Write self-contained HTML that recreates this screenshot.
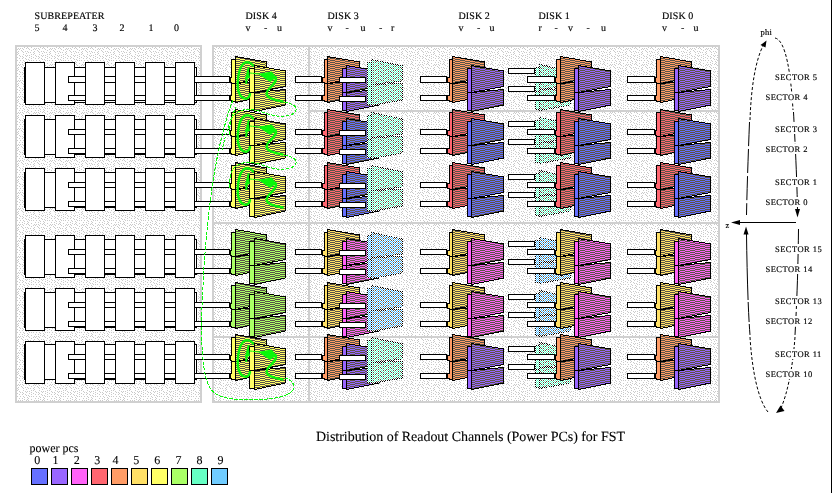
<!DOCTYPE html>
<html lang="en"><head><meta charset="utf-8"><title>Distribution of Readout Channels (Power PCs) for FST</title>
<style>
html,body{margin:0;padding:0;background:#fff;}
body{width:834px;height:494px;overflow:hidden;}
svg{display:block;}
text{font-family:"Liberation Serif","DejaVu Serif",serif;fill:#000;}
.h{font-size:10px;letter-spacing:0.1px;stroke:#000;stroke-width:0.15px;}
.s{font-size:8.5px;letter-spacing:0.45px;stroke:#000;stroke-width:0.15px;}
.c,.p{stroke:#000;stroke-width:0.1px;}
.k{stroke:#000;stroke-width:1;}
.w{fill:#fff;stroke:#000;stroke-width:1;}
.g{fill:none;stroke:#08f808;}
</style></head><body>
<svg width="834" height="494" viewBox="0 0 834 494" shape-rendering="crispEdges">
<defs>
<pattern id="bg" width="16" height="16" patternUnits="userSpaceOnUse"><rect width="16" height="16" fill="#fff"/><rect x="1" y="1" width="1" height="1" fill="#cacaca"/><rect x="1" y="4" width="1" height="1" fill="#cacaca"/><rect x="1" y="6" width="1" height="1" fill="#cacaca"/><rect x="1" y="9" width="1" height="1" fill="#cacaca"/><rect x="1" y="12" width="1" height="1" fill="#cacaca"/><rect x="2" y="0" width="1" height="1" fill="#cacaca"/><rect x="2" y="3" width="1" height="1" fill="#cacaca"/><rect x="2" y="5" width="1" height="1" fill="#cacaca"/><rect x="3" y="1" width="1" height="1" fill="#cacaca"/><rect x="3" y="7" width="1" height="1" fill="#cacaca"/><rect x="3" y="10" width="1" height="1" fill="#cacaca"/><rect x="3" y="14" width="1" height="1" fill="#cacaca"/><rect x="4" y="0" width="1" height="1" fill="#cacaca"/><rect x="4" y="8" width="1" height="1" fill="#cacaca"/><rect x="4" y="12" width="1" height="1" fill="#cacaca"/><rect x="5" y="2" width="1" height="1" fill="#cacaca"/><rect x="6" y="0" width="1" height="1" fill="#cacaca"/><rect x="6" y="3" width="1" height="1" fill="#cacaca"/><rect x="6" y="8" width="1" height="1" fill="#cacaca"/><rect x="6" y="10" width="1" height="1" fill="#cacaca"/><rect x="6" y="14" width="1" height="1" fill="#cacaca"/><rect x="7" y="1" width="1" height="1" fill="#cacaca"/><rect x="7" y="4" width="1" height="1" fill="#cacaca"/><rect x="7" y="6" width="1" height="1" fill="#cacaca"/><rect x="7" y="9" width="1" height="1" fill="#cacaca"/><rect x="7" y="12" width="1" height="1" fill="#cacaca"/><rect x="8" y="13" width="1" height="1" fill="#cacaca"/><rect x="8" y="15" width="1" height="1" fill="#cacaca"/><rect x="9" y="3" width="1" height="1" fill="#cacaca"/><rect x="9" y="7" width="1" height="1" fill="#cacaca"/><rect x="9" y="10" width="1" height="1" fill="#cacaca"/><rect x="10" y="0" width="1" height="1" fill="#cacaca"/><rect x="10" y="5" width="1" height="1" fill="#cacaca"/><rect x="10" y="8" width="1" height="1" fill="#cacaca"/><rect x="10" y="11" width="1" height="1" fill="#cacaca"/><rect x="11" y="3" width="1" height="1" fill="#cacaca"/><rect x="11" y="7" width="1" height="1" fill="#cacaca"/><rect x="11" y="13" width="1" height="1" fill="#cacaca"/><rect x="11" y="15" width="1" height="1" fill="#cacaca"/><rect x="12" y="0" width="1" height="1" fill="#cacaca"/><rect x="12" y="4" width="1" height="1" fill="#cacaca"/><rect x="12" y="11" width="1" height="1" fill="#cacaca"/><rect x="12" y="14" width="1" height="1" fill="#cacaca"/><rect x="13" y="1" width="1" height="1" fill="#cacaca"/><rect x="13" y="7" width="1" height="1" fill="#cacaca"/><rect x="13" y="9" width="1" height="1" fill="#cacaca"/><rect x="13" y="12" width="1" height="1" fill="#cacaca"/><rect x="14" y="4" width="1" height="1" fill="#cacaca"/><rect x="15" y="2" width="1" height="1" fill="#cacaca"/><rect x="15" y="6" width="1" height="1" fill="#cacaca"/><rect x="15" y="8" width="1" height="1" fill="#cacaca"/><rect x="15" y="10" width="1" height="1" fill="#cacaca"/><rect x="15" y="12" width="1" height="1" fill="#cacaca"/><rect x="15" y="15" width="1" height="1" fill="#cacaca"/></pattern>
<pattern id="h0" width="10" height="2" patternUnits="userSpaceOnUse"><rect width="10" height="2" fill="#6670ff"/><rect x="0" y="0" width="5" height="1" fill="#5a5446"/><rect x="5" y="1" width="5" height="1" fill="#5a5446"/></pattern>
<pattern id="h1" width="10" height="2" patternUnits="userSpaceOnUse"><rect width="10" height="2" fill="#9966ff"/><rect x="0" y="0" width="5" height="1" fill="#5a5446"/><rect x="5" y="1" width="5" height="1" fill="#5a5446"/></pattern>
<pattern id="h2" width="10" height="2" patternUnits="userSpaceOnUse"><rect width="10" height="2" fill="#ff62f8"/><rect x="0" y="0" width="5" height="1" fill="#5a5446"/><rect x="5" y="1" width="5" height="1" fill="#5a5446"/></pattern>
<pattern id="h3" width="10" height="2" patternUnits="userSpaceOnUse"><rect width="10" height="2" fill="#ff6670"/><rect x="0" y="0" width="5" height="1" fill="#5a5446"/><rect x="5" y="1" width="5" height="1" fill="#5a5446"/></pattern>
<pattern id="h4" width="10" height="2" patternUnits="userSpaceOnUse"><rect width="10" height="2" fill="#ff9c66"/><rect x="0" y="0" width="5" height="1" fill="#5a5446"/><rect x="5" y="1" width="5" height="1" fill="#5a5446"/></pattern>
<pattern id="h5" width="10" height="2" patternUnits="userSpaceOnUse"><rect width="10" height="2" fill="#ffe066"/><rect x="0" y="0" width="5" height="1" fill="#5a5446"/><rect x="5" y="1" width="5" height="1" fill="#5a5446"/></pattern>
<pattern id="h6" width="10" height="2" patternUnits="userSpaceOnUse"><rect width="10" height="2" fill="#ffff66"/><rect x="0" y="0" width="5" height="1" fill="#5a5446"/><rect x="5" y="1" width="5" height="1" fill="#5a5446"/></pattern>
<pattern id="h7" width="10" height="2" patternUnits="userSpaceOnUse"><rect width="10" height="2" fill="#aaff66"/><rect x="0" y="0" width="5" height="1" fill="#5a5446"/><rect x="5" y="1" width="5" height="1" fill="#5a5446"/></pattern>
<pattern id="h8" width="10" height="2" patternUnits="userSpaceOnUse"><rect width="10" height="2" fill="#66ffc4"/><rect x="0" y="0" width="5" height="1" fill="#5a5446"/><rect x="5" y="1" width="5" height="1" fill="#5a5446"/></pattern>
<pattern id="h9" width="10" height="2" patternUnits="userSpaceOnUse"><rect width="10" height="2" fill="#70ccff"/><rect x="0" y="0" width="5" height="1" fill="#5a5446"/><rect x="5" y="1" width="5" height="1" fill="#5a5446"/></pattern>
<pattern id="hr8" width="10" height="4" patternUnits="userSpaceOnUse"><rect width="10" height="4" fill="#58ffc4"/><rect x="0" y="0" width="4" height="1" fill="#5a5446"/><rect x="5" y="1" width="4" height="1" fill="#5a5446"/><rect x="3" y="2" width="4" height="1" fill="#5a5446"/><rect x="8" y="3" width="2" height="1" fill="#5a5446"/><rect x="0" y="3" width="2" height="1" fill="#5a5446"/></pattern>
<pattern id="hr9" width="10" height="4" patternUnits="userSpaceOnUse"><rect width="10" height="4" fill="#44b6ff"/><rect x="0" y="0" width="4" height="1" fill="#5a5446"/><rect x="5" y="1" width="4" height="1" fill="#5a5446"/><rect x="3" y="2" width="4" height="1" fill="#5a5446"/><rect x="8" y="3" width="2" height="1" fill="#5a5446"/><rect x="0" y="3" width="2" height="1" fill="#5a5446"/></pattern>
<pattern id="rs8" width="2" height="2" patternUnits="userSpaceOnUse"><rect width="2" height="2" fill="#fff"/><rect x="0" y="0" width="1" height="1" fill="#66ffc4"/><rect x="1" y="1" width="1" height="1" fill="#66ffc4"/></pattern>
<pattern id="rh8" width="2" height="2" patternUnits="userSpaceOnUse"><rect width="2" height="2" fill="#fff"/><rect x="0" y="0" width="1" height="1" fill="#66ffc4"/><rect x="1" y="1" width="1" height="1" fill="#505048"/></pattern>
<pattern id="rs9" width="2" height="2" patternUnits="userSpaceOnUse"><rect width="2" height="2" fill="#fff"/><rect x="0" y="0" width="1" height="1" fill="#70ccff"/><rect x="1" y="1" width="1" height="1" fill="#70ccff"/></pattern>
<pattern id="rh9" width="2" height="2" patternUnits="userSpaceOnUse"><rect width="2" height="2" fill="#fff"/><rect x="0" y="0" width="1" height="1" fill="#70ccff"/><rect x="1" y="1" width="1" height="1" fill="#505048"/></pattern>
<pattern id="kd" width="2" height="2" patternUnits="userSpaceOnUse"><rect x="0" y="0" width="1" height="1" fill="#000"/><rect x="1" y="1" width="1" height="1" fill="#000"/></pattern>
<pattern id="ckp" width="2" height="2" patternUnits="userSpaceOnUse"><rect width="2" height="2" fill="#000"/><rect x="1" y="0" width="1" height="1" fill="#fff"/><rect x="0" y="1" width="1" height="1" fill="#fff"/></pattern>
<mask id="ck" maskUnits="userSpaceOnUse" x="0" y="0" width="834" height="494"><rect width="834" height="494" fill="url(#ckp)"/></mask>
</defs>
<rect width="834" height="494" fill="#fff"/>
<rect x="16" y="46" width="185" height="356" fill="url(#bg)" stroke="#d0d0d0" stroke-width="2"/>
<rect x="213" y="46" width="506" height="356" fill="url(#bg)" stroke="#d0d0d0" stroke-width="2"/>
<rect x="308" y="47" width="2" height="354" fill="#d0d0d0"/>
<rect x="214" y="222" width="504" height="2" fill="#d0d0d0"/>
<rect x="214" y="336" width="504" height="2" fill="#d0d0d0"/>
<rect x="310" y="110" width="408" height="2" fill="#d0d0d0"/>
<rect class="w" x="24.5" y="67.5" width="172.0" height="35.0"/>
<rect x="24" y="67" width="2" height="36" fill="#000"/>
<rect class="w" x="25.5" y="62.5" width="19.0" height="42.0"/>
<rect class="w" x="55.5" y="62.5" width="19.0" height="42.0"/>
<rect class="w" x="68.5" y="76.5" width="161.0" height="6.0"/>
<rect class="w" x="68.5" y="95.5" width="161.0" height="5.0"/>
<rect class="w" x="85.5" y="62.5" width="19.0" height="42.0"/>
<rect class="w" x="115.5" y="62.5" width="19.0" height="42.0"/>
<rect class="w" x="145.5" y="62.5" width="19.0" height="42.0"/>
<rect class="w" x="175.5" y="62.5" width="19.0" height="42.0"/>
<rect class="w" x="24.5" y="119.5" width="172.0" height="35.0"/>
<rect x="24" y="119" width="2" height="36" fill="#000"/>
<rect class="w" x="25.5" y="115.5" width="19.0" height="42.0"/>
<rect class="w" x="55.5" y="115.5" width="19.0" height="42.0"/>
<rect class="w" x="68.5" y="129.5" width="161.0" height="5.0"/>
<rect class="w" x="68.5" y="148.5" width="161.0" height="5.0"/>
<rect class="w" x="85.5" y="115.5" width="19.0" height="42.0"/>
<rect class="w" x="115.5" y="115.5" width="19.0" height="42.0"/>
<rect class="w" x="145.5" y="115.5" width="19.0" height="42.0"/>
<rect class="w" x="175.5" y="115.5" width="19.0" height="42.0"/>
<rect class="w" x="24.5" y="172.5" width="172.0" height="35.0"/>
<rect x="24" y="172" width="2" height="36" fill="#000"/>
<rect class="w" x="25.5" y="168.5" width="19.0" height="42.0"/>
<rect class="w" x="55.5" y="168.5" width="19.0" height="42.0"/>
<rect class="w" x="68.5" y="182.5" width="161.0" height="5.0"/>
<rect class="w" x="68.5" y="201.5" width="161.0" height="5.0"/>
<rect class="w" x="85.5" y="168.5" width="19.0" height="42.0"/>
<rect class="w" x="115.5" y="168.5" width="19.0" height="42.0"/>
<rect class="w" x="145.5" y="168.5" width="19.0" height="42.0"/>
<rect class="w" x="175.5" y="168.5" width="19.0" height="42.0"/>
<rect class="w" x="24.5" y="239.5" width="172.0" height="35.0"/>
<rect x="24" y="239" width="2" height="36" fill="#000"/>
<rect class="w" x="25.5" y="235.5" width="19.0" height="42.0"/>
<rect class="w" x="55.5" y="235.5" width="19.0" height="42.0"/>
<rect class="w" x="68.5" y="249.5" width="161.0" height="5.0"/>
<rect class="w" x="68.5" y="268.5" width="161.0" height="5.0"/>
<rect class="w" x="85.5" y="235.5" width="19.0" height="42.0"/>
<rect class="w" x="115.5" y="235.5" width="19.0" height="42.0"/>
<rect class="w" x="145.5" y="235.5" width="19.0" height="42.0"/>
<rect class="w" x="175.5" y="235.5" width="19.0" height="42.0"/>
<rect class="w" x="24.5" y="292.5" width="172.0" height="35.0"/>
<rect x="24" y="292" width="2" height="36" fill="#000"/>
<rect class="w" x="25.5" y="288.5" width="19.0" height="42.0"/>
<rect class="w" x="55.5" y="288.5" width="19.0" height="42.0"/>
<rect class="w" x="68.5" y="302.5" width="161.0" height="5.0"/>
<rect class="w" x="68.5" y="321.5" width="161.0" height="5.0"/>
<rect class="w" x="85.5" y="288.5" width="19.0" height="42.0"/>
<rect class="w" x="115.5" y="288.5" width="19.0" height="42.0"/>
<rect class="w" x="145.5" y="288.5" width="19.0" height="42.0"/>
<rect class="w" x="175.5" y="288.5" width="19.0" height="42.0"/>
<rect class="w" x="24.5" y="344.5" width="172.0" height="35.0"/>
<rect x="24" y="344" width="2" height="36" fill="#000"/>
<rect class="w" x="25.5" y="341.5" width="19.0" height="42.0"/>
<rect class="w" x="55.5" y="341.5" width="19.0" height="42.0"/>
<rect class="w" x="68.5" y="354.5" width="161.0" height="5.0"/>
<rect class="w" x="68.5" y="373.5" width="161.0" height="5.0"/>
<rect class="w" x="85.5" y="341.5" width="19.0" height="42.0"/>
<rect class="w" x="115.5" y="341.5" width="19.0" height="42.0"/>
<rect class="w" x="145.5" y="341.5" width="19.0" height="42.0"/>
<rect class="w" x="175.5" y="341.5" width="19.0" height="42.0"/>
<rect class="k" x="230.5" y="77.5" width="2.0" height="5.0" fill="#ffff66"/>
<rect class="k" x="230.5" y="95.5" width="2.0" height="5.0" fill="#ffff66"/>
<rect class="k" x="231.5" y="59.5" width="4.0" height="24.0" fill="#ffff66"/>
<rect class="k" x="231.5" y="83.5" width="4.0" height="18.0" fill="#ffff66"/>
<rect x="231" y="78" width="1" height="4" fill="#ffff66"/>
<rect x="231" y="96" width="1" height="4" fill="#ffff66"/>
<polygon points="235.5,56.5 266.5,62.0 266.5,77.5 235.5,83.5" fill="url(#h6)" stroke="#000" stroke-width="1"/>
<polygon points="235.5,83.5 266.5,80.5 266.5,96.0 235.5,102.5" fill="url(#h6)" stroke="#000" stroke-width="1"/>
<rect class="k" x="249.5" y="68.5" width="5.0" height="24.0" fill="#ffff66"/>
<rect class="k" x="249.5" y="92.5" width="5.0" height="18.0" fill="#ffff66"/>
<polygon points="254.5,65.5 285.5,71.0 285.5,86.5 254.5,92.5" fill="url(#h6)" stroke="#000" stroke-width="1"/>
<polygon points="254.5,92.5 285.5,89.5 285.5,105.0 254.5,111.5" fill="url(#h6)" stroke="#000" stroke-width="1"/>
<rect class="w" x="295.5" y="76.5" width="26.0" height="6.0"/>
<rect class="w" x="295.5" y="95.5" width="26.0" height="5.0"/>
<rect class="k" x="322.5" y="77.5" width="3.0" height="5.0" fill="#ff9c66"/>
<rect class="k" x="322.5" y="95.5" width="3.0" height="5.0" fill="#ff9c66"/>
<rect class="k" x="324.5" y="59.5" width="3.0" height="24.0" fill="#ff9c66"/>
<rect class="k" x="324.5" y="83.5" width="3.0" height="18.0" fill="#ff9c66"/>
<rect x="324" y="78" width="1" height="4" fill="#ff9c66"/>
<rect x="324" y="96" width="1" height="4" fill="#ff9c66"/>
<polygon points="327.5,56.5 359.5,62.0 359.5,77.5 327.5,83.5" fill="url(#h4)" stroke="#000" stroke-width="1"/>
<polygon points="327.5,83.5 359.5,80.5 359.5,96.0 327.5,102.5" fill="url(#h4)" stroke="#000" stroke-width="1"/>
<rect class="k" x="342.5" y="68.5" width="4.0" height="24.0" fill="#9966ff"/>
<rect class="k" x="342.5" y="92.5" width="4.0" height="18.0" fill="#9966ff"/>
<polygon points="346.5,65.5 378.5,71.0 378.5,86.5 346.5,92.5" fill="url(#h1)" stroke="#000" stroke-width="1"/>
<polygon points="346.5,92.5 378.5,89.5 378.5,105.0 346.5,111.5" fill="url(#h1)" stroke="#000" stroke-width="1"/>
<rect class="w" x="339.5" y="77.5" width="26.0" height="5.0"/>
<rect class="w" x="339.5" y="96.5" width="26.0" height="5.0"/>
<polygon points="367.0,62.0 371.0,62.0 371.0,59.0 403.0,65.5 403.0,100.5 371.0,106.0 371.0,105.0 367.0,105.0" fill="#fff"/>
<g mask="url(#ck)">
<rect class="k" x="367.5" y="62.5" width="4.0" height="24.0" fill="#58ffc4"/>
<rect class="k" x="367.5" y="86.5" width="4.0" height="18.0" fill="#58ffc4"/>
<polygon points="371.5,59.5 402.5,66.0 402.5,81.0 371.5,84.5" fill="url(#hr8)" stroke="#000" stroke-width="1"/>
<polygon points="371.5,84.5 402.5,83.5 402.5,100.0 371.5,105.5" fill="url(#hr8)" stroke="#000" stroke-width="1"/>
</g>
<rect class="w" x="420.5" y="76.5" width="26.0" height="6.0"/>
<rect class="w" x="420.5" y="95.5" width="26.0" height="5.0"/>
<rect class="k" x="447.5" y="77.5" width="3.0" height="5.0" fill="#ff9c66"/>
<rect class="k" x="447.5" y="95.5" width="3.0" height="5.0" fill="#ff9c66"/>
<rect class="k" x="449.5" y="59.5" width="3.0" height="24.0" fill="#ff9c66"/>
<rect class="k" x="449.5" y="83.5" width="3.0" height="18.0" fill="#ff9c66"/>
<rect x="449" y="78" width="1" height="4" fill="#ff9c66"/>
<rect x="449" y="96" width="1" height="4" fill="#ff9c66"/>
<polygon points="452.5,56.5 484.5,62.0 484.5,77.5 452.5,83.5" fill="url(#h4)" stroke="#000" stroke-width="1"/>
<polygon points="452.5,83.5 484.5,80.5 484.5,96.0 452.5,102.5" fill="url(#h4)" stroke="#000" stroke-width="1"/>
<rect class="k" x="467.5" y="68.5" width="4.0" height="24.0" fill="#9966ff"/>
<rect class="k" x="467.5" y="92.5" width="4.0" height="18.0" fill="#9966ff"/>
<polygon points="471.5,65.5 503.5,71.0 503.5,86.5 471.5,92.5" fill="url(#h1)" stroke="#000" stroke-width="1"/>
<polygon points="471.5,92.5 503.5,89.5 503.5,105.0 471.5,111.5" fill="url(#h1)" stroke="#000" stroke-width="1"/>
<rect class="w" x="508.5" y="68.5" width="26.0" height="5.0"/>
<rect class="w" x="508.5" y="86.5" width="26.0" height="5.0"/>
<polygon points="535.0,67.0 539.0,67.0 539.0,64.0 571.0,70.5 571.0,105.5 539.0,111.0 539.0,110.0 535.0,110.0" fill="#fff"/>
<g mask="url(#ck)">
<rect class="k" x="535.5" y="67.5" width="4.0" height="24.0" fill="#58ffc4"/>
<rect class="k" x="535.5" y="91.5" width="4.0" height="18.0" fill="#58ffc4"/>
<polygon points="539.5,64.5 570.5,71.0 570.5,86.0 539.5,89.5" fill="url(#hr8)" stroke="#000" stroke-width="1"/>
<polygon points="539.5,89.5 570.5,88.5 570.5,105.0 539.5,110.5" fill="url(#hr8)" stroke="#000" stroke-width="1"/>
</g>
<rect class="w" x="527.5" y="76.5" width="27.0" height="6.0"/>
<rect class="w" x="527.5" y="95.5" width="27.0" height="5.0"/>
<rect class="k" x="555.5" y="77.5" width="2.0" height="5.0" fill="#ff9c66"/>
<rect class="k" x="555.5" y="95.5" width="2.0" height="5.0" fill="#ff9c66"/>
<rect class="k" x="556.5" y="59.5" width="4.0" height="24.0" fill="#ff9c66"/>
<rect class="k" x="556.5" y="83.5" width="4.0" height="18.0" fill="#ff9c66"/>
<rect x="556" y="78" width="1" height="4" fill="#ff9c66"/>
<rect x="556" y="96" width="1" height="4" fill="#ff9c66"/>
<polygon points="560.5,56.5 591.5,62.0 591.5,77.5 560.5,83.5" fill="url(#h4)" stroke="#000" stroke-width="1"/>
<polygon points="560.5,83.5 591.5,80.5 591.5,96.0 560.5,102.5" fill="url(#h4)" stroke="#000" stroke-width="1"/>
<rect class="k" x="574.5" y="68.5" width="4.0" height="24.0" fill="#9966ff"/>
<rect class="k" x="574.5" y="92.5" width="4.0" height="18.0" fill="#9966ff"/>
<polygon points="578.5,65.5 610.5,71.0 610.5,86.5 578.5,92.5" fill="url(#h1)" stroke="#000" stroke-width="1"/>
<polygon points="578.5,92.5 610.5,89.5 610.5,105.0 578.5,111.5" fill="url(#h1)" stroke="#000" stroke-width="1"/>
<rect class="w" x="627.5" y="76.5" width="27.0" height="6.0"/>
<rect class="w" x="627.5" y="95.5" width="27.0" height="5.0"/>
<rect class="k" x="655.5" y="77.5" width="2.0" height="5.0" fill="#ff9c66"/>
<rect class="k" x="655.5" y="95.5" width="2.0" height="5.0" fill="#ff9c66"/>
<rect class="k" x="656.5" y="59.5" width="4.0" height="24.0" fill="#ff9c66"/>
<rect class="k" x="656.5" y="83.5" width="4.0" height="18.0" fill="#ff9c66"/>
<rect x="656" y="78" width="1" height="4" fill="#ff9c66"/>
<rect x="656" y="96" width="1" height="4" fill="#ff9c66"/>
<polygon points="660.5,56.5 691.5,62.0 691.5,77.5 660.5,83.5" fill="url(#h4)" stroke="#000" stroke-width="1"/>
<polygon points="660.5,83.5 691.5,80.5 691.5,96.0 660.5,102.5" fill="url(#h4)" stroke="#000" stroke-width="1"/>
<rect class="k" x="674.5" y="68.5" width="4.0" height="24.0" fill="#9966ff"/>
<rect class="k" x="674.5" y="92.5" width="4.0" height="18.0" fill="#9966ff"/>
<polygon points="678.5,65.5 710.5,71.0 710.5,86.5 678.5,92.5" fill="url(#h1)" stroke="#000" stroke-width="1"/>
<polygon points="678.5,92.5 710.5,89.5 710.5,105.0 678.5,111.5" fill="url(#h1)" stroke="#000" stroke-width="1"/>
<rect class="k" x="230.5" y="130.5" width="2.0" height="5.0" fill="#ffff66"/>
<rect class="k" x="230.5" y="148.5" width="2.0" height="5.0" fill="#ffff66"/>
<rect class="k" x="231.5" y="112.5" width="4.0" height="24.0" fill="#ffff66"/>
<rect class="k" x="231.5" y="136.5" width="4.0" height="18.0" fill="#ffff66"/>
<rect x="231" y="131" width="1" height="4" fill="#ffff66"/>
<rect x="231" y="149" width="1" height="4" fill="#ffff66"/>
<polygon points="235.5,109.5 266.5,115.0 266.5,130.5 235.5,136.5" fill="url(#h6)" stroke="#000" stroke-width="1"/>
<polygon points="235.5,136.5 266.5,133.5 266.5,149.0 235.5,155.5" fill="url(#h6)" stroke="#000" stroke-width="1"/>
<rect class="k" x="249.5" y="121.5" width="5.0" height="24.0" fill="#ffff66"/>
<rect class="k" x="249.5" y="145.5" width="5.0" height="18.0" fill="#ffff66"/>
<polygon points="254.5,118.5 285.5,124.0 285.5,139.5 254.5,145.5" fill="url(#h6)" stroke="#000" stroke-width="1"/>
<polygon points="254.5,145.5 285.5,142.5 285.5,158.0 254.5,164.5" fill="url(#h6)" stroke="#000" stroke-width="1"/>
<rect class="w" x="295.5" y="129.5" width="26.0" height="5.0"/>
<rect class="w" x="295.5" y="148.5" width="26.0" height="5.0"/>
<rect class="k" x="322.5" y="130.5" width="3.0" height="5.0" fill="#ff6670"/>
<rect class="k" x="322.5" y="148.5" width="3.0" height="5.0" fill="#ff6670"/>
<rect class="k" x="324.5" y="112.5" width="3.0" height="24.0" fill="#ff6670"/>
<rect class="k" x="324.5" y="136.5" width="3.0" height="18.0" fill="#ff6670"/>
<rect x="324" y="131" width="1" height="4" fill="#ff6670"/>
<rect x="324" y="149" width="1" height="4" fill="#ff6670"/>
<polygon points="327.5,109.5 359.5,115.0 359.5,130.5 327.5,136.5" fill="url(#h3)" stroke="#000" stroke-width="1"/>
<polygon points="327.5,136.5 359.5,133.5 359.5,149.0 327.5,155.5" fill="url(#h3)" stroke="#000" stroke-width="1"/>
<rect class="k" x="342.5" y="121.5" width="4.0" height="24.0" fill="#6670ff"/>
<rect class="k" x="342.5" y="145.5" width="4.0" height="18.0" fill="#6670ff"/>
<polygon points="346.5,118.5 378.5,124.0 378.5,139.5 346.5,145.5" fill="url(#h0)" stroke="#000" stroke-width="1"/>
<polygon points="346.5,145.5 378.5,142.5 378.5,158.0 346.5,164.5" fill="url(#h0)" stroke="#000" stroke-width="1"/>
<rect class="w" x="339.5" y="130.5" width="26.0" height="5.0"/>
<rect class="w" x="339.5" y="149.5" width="26.0" height="5.0"/>
<polygon points="367.0,115.0 371.0,115.0 371.0,112.0 403.0,118.5 403.0,153.5 371.0,159.0 371.0,158.0 367.0,158.0" fill="#fff"/>
<g mask="url(#ck)">
<rect class="k" x="367.5" y="115.5" width="4.0" height="24.0" fill="#58ffc4"/>
<rect class="k" x="367.5" y="139.5" width="4.0" height="18.0" fill="#58ffc4"/>
<polygon points="371.5,112.5 402.5,119.0 402.5,134.0 371.5,137.5" fill="url(#hr8)" stroke="#000" stroke-width="1"/>
<polygon points="371.5,137.5 402.5,136.5 402.5,153.0 371.5,158.5" fill="url(#hr8)" stroke="#000" stroke-width="1"/>
</g>
<rect class="w" x="420.5" y="129.5" width="26.0" height="5.0"/>
<rect class="w" x="420.5" y="148.5" width="26.0" height="5.0"/>
<rect class="k" x="447.5" y="130.5" width="3.0" height="5.0" fill="#ff6670"/>
<rect class="k" x="447.5" y="148.5" width="3.0" height="5.0" fill="#ff6670"/>
<rect class="k" x="449.5" y="112.5" width="3.0" height="24.0" fill="#ff6670"/>
<rect class="k" x="449.5" y="136.5" width="3.0" height="18.0" fill="#ff6670"/>
<rect x="449" y="131" width="1" height="4" fill="#ff6670"/>
<rect x="449" y="149" width="1" height="4" fill="#ff6670"/>
<polygon points="452.5,109.5 484.5,115.0 484.5,130.5 452.5,136.5" fill="url(#h3)" stroke="#000" stroke-width="1"/>
<polygon points="452.5,136.5 484.5,133.5 484.5,149.0 452.5,155.5" fill="url(#h3)" stroke="#000" stroke-width="1"/>
<rect class="k" x="467.5" y="121.5" width="4.0" height="24.0" fill="#6670ff"/>
<rect class="k" x="467.5" y="145.5" width="4.0" height="18.0" fill="#6670ff"/>
<polygon points="471.5,118.5 503.5,124.0 503.5,139.5 471.5,145.5" fill="url(#h0)" stroke="#000" stroke-width="1"/>
<polygon points="471.5,145.5 503.5,142.5 503.5,158.0 471.5,164.5" fill="url(#h0)" stroke="#000" stroke-width="1"/>
<rect class="w" x="508.5" y="121.5" width="26.0" height="5.0"/>
<rect class="w" x="508.5" y="139.5" width="26.0" height="5.0"/>
<polygon points="535.0,120.0 539.0,120.0 539.0,117.0 571.0,123.5 571.0,158.5 539.0,164.0 539.0,163.0 535.0,163.0" fill="#fff"/>
<g mask="url(#ck)">
<rect class="k" x="535.5" y="120.5" width="4.0" height="24.0" fill="#58ffc4"/>
<rect class="k" x="535.5" y="144.5" width="4.0" height="18.0" fill="#58ffc4"/>
<polygon points="539.5,117.5 570.5,124.0 570.5,139.0 539.5,142.5" fill="url(#hr8)" stroke="#000" stroke-width="1"/>
<polygon points="539.5,142.5 570.5,141.5 570.5,158.0 539.5,163.5" fill="url(#hr8)" stroke="#000" stroke-width="1"/>
</g>
<rect class="w" x="527.5" y="129.5" width="27.0" height="5.0"/>
<rect class="w" x="527.5" y="148.5" width="27.0" height="5.0"/>
<rect class="k" x="555.5" y="130.5" width="2.0" height="5.0" fill="#ff6670"/>
<rect class="k" x="555.5" y="148.5" width="2.0" height="5.0" fill="#ff6670"/>
<rect class="k" x="556.5" y="112.5" width="4.0" height="24.0" fill="#ff6670"/>
<rect class="k" x="556.5" y="136.5" width="4.0" height="18.0" fill="#ff6670"/>
<rect x="556" y="131" width="1" height="4" fill="#ff6670"/>
<rect x="556" y="149" width="1" height="4" fill="#ff6670"/>
<polygon points="560.5,109.5 591.5,115.0 591.5,130.5 560.5,136.5" fill="url(#h3)" stroke="#000" stroke-width="1"/>
<polygon points="560.5,136.5 591.5,133.5 591.5,149.0 560.5,155.5" fill="url(#h3)" stroke="#000" stroke-width="1"/>
<rect class="k" x="574.5" y="121.5" width="4.0" height="24.0" fill="#6670ff"/>
<rect class="k" x="574.5" y="145.5" width="4.0" height="18.0" fill="#6670ff"/>
<polygon points="578.5,118.5 610.5,124.0 610.5,139.5 578.5,145.5" fill="url(#h0)" stroke="#000" stroke-width="1"/>
<polygon points="578.5,145.5 610.5,142.5 610.5,158.0 578.5,164.5" fill="url(#h0)" stroke="#000" stroke-width="1"/>
<rect class="w" x="627.5" y="129.5" width="27.0" height="5.0"/>
<rect class="w" x="627.5" y="148.5" width="27.0" height="5.0"/>
<rect class="k" x="655.5" y="130.5" width="2.0" height="5.0" fill="#ff6670"/>
<rect class="k" x="655.5" y="148.5" width="2.0" height="5.0" fill="#ff6670"/>
<rect class="k" x="656.5" y="112.5" width="4.0" height="24.0" fill="#ff6670"/>
<rect class="k" x="656.5" y="136.5" width="4.0" height="18.0" fill="#ff6670"/>
<rect x="656" y="131" width="1" height="4" fill="#ff6670"/>
<rect x="656" y="149" width="1" height="4" fill="#ff6670"/>
<polygon points="660.5,109.5 691.5,115.0 691.5,130.5 660.5,136.5" fill="url(#h3)" stroke="#000" stroke-width="1"/>
<polygon points="660.5,136.5 691.5,133.5 691.5,149.0 660.5,155.5" fill="url(#h3)" stroke="#000" stroke-width="1"/>
<rect class="k" x="674.5" y="121.5" width="4.0" height="24.0" fill="#6670ff"/>
<rect class="k" x="674.5" y="145.5" width="4.0" height="18.0" fill="#6670ff"/>
<polygon points="678.5,118.5 710.5,124.0 710.5,139.5 678.5,145.5" fill="url(#h0)" stroke="#000" stroke-width="1"/>
<polygon points="678.5,145.5 710.5,142.5 710.5,158.0 678.5,164.5" fill="url(#h0)" stroke="#000" stroke-width="1"/>
<rect class="k" x="230.5" y="183.5" width="2.0" height="5.0" fill="#ffff66"/>
<rect class="k" x="230.5" y="201.5" width="2.0" height="5.0" fill="#ffff66"/>
<rect class="k" x="231.5" y="165.5" width="4.0" height="24.0" fill="#ffff66"/>
<rect class="k" x="231.5" y="189.5" width="4.0" height="18.0" fill="#ffff66"/>
<rect x="231" y="184" width="1" height="4" fill="#ffff66"/>
<rect x="231" y="202" width="1" height="4" fill="#ffff66"/>
<polygon points="235.5,162.5 266.5,168.0 266.5,183.5 235.5,189.5" fill="url(#h6)" stroke="#000" stroke-width="1"/>
<polygon points="235.5,189.5 266.5,186.5 266.5,202.0 235.5,208.5" fill="url(#h6)" stroke="#000" stroke-width="1"/>
<rect class="k" x="249.5" y="174.5" width="5.0" height="24.0" fill="#ffff66"/>
<rect class="k" x="249.5" y="198.5" width="5.0" height="18.0" fill="#ffff66"/>
<polygon points="254.5,171.5 285.5,177.0 285.5,192.5 254.5,198.5" fill="url(#h6)" stroke="#000" stroke-width="1"/>
<polygon points="254.5,198.5 285.5,195.5 285.5,211.0 254.5,217.5" fill="url(#h6)" stroke="#000" stroke-width="1"/>
<rect class="w" x="295.5" y="182.5" width="26.0" height="5.0"/>
<rect class="w" x="295.5" y="201.5" width="26.0" height="5.0"/>
<rect class="k" x="322.5" y="183.5" width="3.0" height="5.0" fill="#ff6670"/>
<rect class="k" x="322.5" y="201.5" width="3.0" height="5.0" fill="#ff6670"/>
<rect class="k" x="324.5" y="165.5" width="3.0" height="24.0" fill="#ff6670"/>
<rect class="k" x="324.5" y="189.5" width="3.0" height="18.0" fill="#ff6670"/>
<rect x="324" y="184" width="1" height="4" fill="#ff6670"/>
<rect x="324" y="202" width="1" height="4" fill="#ff6670"/>
<polygon points="327.5,162.5 359.5,168.0 359.5,183.5 327.5,189.5" fill="url(#h3)" stroke="#000" stroke-width="1"/>
<polygon points="327.5,189.5 359.5,186.5 359.5,202.0 327.5,208.5" fill="url(#h3)" stroke="#000" stroke-width="1"/>
<rect class="k" x="342.5" y="174.5" width="4.0" height="24.0" fill="#6670ff"/>
<rect class="k" x="342.5" y="198.5" width="4.0" height="18.0" fill="#6670ff"/>
<polygon points="346.5,171.5 378.5,177.0 378.5,192.5 346.5,198.5" fill="url(#h0)" stroke="#000" stroke-width="1"/>
<polygon points="346.5,198.5 378.5,195.5 378.5,211.0 346.5,217.5" fill="url(#h0)" stroke="#000" stroke-width="1"/>
<rect class="w" x="339.5" y="183.5" width="26.0" height="5.0"/>
<rect class="w" x="339.5" y="202.5" width="26.0" height="5.0"/>
<polygon points="367.0,168.0 371.0,168.0 371.0,165.0 403.0,171.5 403.0,206.5 371.0,212.0 371.0,211.0 367.0,211.0" fill="#fff"/>
<g mask="url(#ck)">
<rect class="k" x="367.5" y="168.5" width="4.0" height="24.0" fill="#58ffc4"/>
<rect class="k" x="367.5" y="192.5" width="4.0" height="18.0" fill="#58ffc4"/>
<polygon points="371.5,165.5 402.5,172.0 402.5,187.0 371.5,190.5" fill="url(#hr8)" stroke="#000" stroke-width="1"/>
<polygon points="371.5,190.5 402.5,189.5 402.5,206.0 371.5,211.5" fill="url(#hr8)" stroke="#000" stroke-width="1"/>
</g>
<rect class="w" x="420.5" y="182.5" width="26.0" height="5.0"/>
<rect class="w" x="420.5" y="201.5" width="26.0" height="5.0"/>
<rect class="k" x="447.5" y="183.5" width="3.0" height="5.0" fill="#ff6670"/>
<rect class="k" x="447.5" y="201.5" width="3.0" height="5.0" fill="#ff6670"/>
<rect class="k" x="449.5" y="165.5" width="3.0" height="24.0" fill="#ff6670"/>
<rect class="k" x="449.5" y="189.5" width="3.0" height="18.0" fill="#ff6670"/>
<rect x="449" y="184" width="1" height="4" fill="#ff6670"/>
<rect x="449" y="202" width="1" height="4" fill="#ff6670"/>
<polygon points="452.5,162.5 484.5,168.0 484.5,183.5 452.5,189.5" fill="url(#h3)" stroke="#000" stroke-width="1"/>
<polygon points="452.5,189.5 484.5,186.5 484.5,202.0 452.5,208.5" fill="url(#h3)" stroke="#000" stroke-width="1"/>
<rect class="k" x="467.5" y="174.5" width="4.0" height="24.0" fill="#6670ff"/>
<rect class="k" x="467.5" y="198.5" width="4.0" height="18.0" fill="#6670ff"/>
<polygon points="471.5,171.5 503.5,177.0 503.5,192.5 471.5,198.5" fill="url(#h0)" stroke="#000" stroke-width="1"/>
<polygon points="471.5,198.5 503.5,195.5 503.5,211.0 471.5,217.5" fill="url(#h0)" stroke="#000" stroke-width="1"/>
<rect class="w" x="508.5" y="174.5" width="26.0" height="5.0"/>
<rect class="w" x="508.5" y="192.5" width="26.0" height="5.0"/>
<polygon points="535.0,173.0 539.0,173.0 539.0,170.0 571.0,176.5 571.0,211.5 539.0,217.0 539.0,216.0 535.0,216.0" fill="#fff"/>
<g mask="url(#ck)">
<rect class="k" x="535.5" y="173.5" width="4.0" height="24.0" fill="#58ffc4"/>
<rect class="k" x="535.5" y="197.5" width="4.0" height="18.0" fill="#58ffc4"/>
<polygon points="539.5,170.5 570.5,177.0 570.5,192.0 539.5,195.5" fill="url(#hr8)" stroke="#000" stroke-width="1"/>
<polygon points="539.5,195.5 570.5,194.5 570.5,211.0 539.5,216.5" fill="url(#hr8)" stroke="#000" stroke-width="1"/>
</g>
<rect class="w" x="527.5" y="182.5" width="27.0" height="5.0"/>
<rect class="w" x="527.5" y="201.5" width="27.0" height="5.0"/>
<rect class="k" x="555.5" y="183.5" width="2.0" height="5.0" fill="#ff6670"/>
<rect class="k" x="555.5" y="201.5" width="2.0" height="5.0" fill="#ff6670"/>
<rect class="k" x="556.5" y="165.5" width="4.0" height="24.0" fill="#ff6670"/>
<rect class="k" x="556.5" y="189.5" width="4.0" height="18.0" fill="#ff6670"/>
<rect x="556" y="184" width="1" height="4" fill="#ff6670"/>
<rect x="556" y="202" width="1" height="4" fill="#ff6670"/>
<polygon points="560.5,162.5 591.5,168.0 591.5,183.5 560.5,189.5" fill="url(#h3)" stroke="#000" stroke-width="1"/>
<polygon points="560.5,189.5 591.5,186.5 591.5,202.0 560.5,208.5" fill="url(#h3)" stroke="#000" stroke-width="1"/>
<rect class="k" x="574.5" y="174.5" width="4.0" height="24.0" fill="#6670ff"/>
<rect class="k" x="574.5" y="198.5" width="4.0" height="18.0" fill="#6670ff"/>
<polygon points="578.5,171.5 610.5,177.0 610.5,192.5 578.5,198.5" fill="url(#h0)" stroke="#000" stroke-width="1"/>
<polygon points="578.5,198.5 610.5,195.5 610.5,211.0 578.5,217.5" fill="url(#h0)" stroke="#000" stroke-width="1"/>
<rect class="w" x="627.5" y="182.5" width="27.0" height="5.0"/>
<rect class="w" x="627.5" y="201.5" width="27.0" height="5.0"/>
<rect class="k" x="655.5" y="183.5" width="2.0" height="5.0" fill="#ff6670"/>
<rect class="k" x="655.5" y="201.5" width="2.0" height="5.0" fill="#ff6670"/>
<rect class="k" x="656.5" y="165.5" width="4.0" height="24.0" fill="#ff6670"/>
<rect class="k" x="656.5" y="189.5" width="4.0" height="18.0" fill="#ff6670"/>
<rect x="656" y="184" width="1" height="4" fill="#ff6670"/>
<rect x="656" y="202" width="1" height="4" fill="#ff6670"/>
<polygon points="660.5,162.5 691.5,168.0 691.5,183.5 660.5,189.5" fill="url(#h3)" stroke="#000" stroke-width="1"/>
<polygon points="660.5,189.5 691.5,186.5 691.5,202.0 660.5,208.5" fill="url(#h3)" stroke="#000" stroke-width="1"/>
<rect class="k" x="674.5" y="174.5" width="4.0" height="24.0" fill="#6670ff"/>
<rect class="k" x="674.5" y="198.5" width="4.0" height="18.0" fill="#6670ff"/>
<polygon points="678.5,171.5 710.5,177.0 710.5,192.5 678.5,198.5" fill="url(#h0)" stroke="#000" stroke-width="1"/>
<polygon points="678.5,198.5 710.5,195.5 710.5,211.0 678.5,217.5" fill="url(#h0)" stroke="#000" stroke-width="1"/>
<rect class="k" x="230.5" y="250.5" width="2.0" height="5.0" fill="#aaff66"/>
<rect class="k" x="230.5" y="268.5" width="2.0" height="5.0" fill="#aaff66"/>
<rect class="k" x="231.5" y="232.5" width="4.0" height="24.0" fill="#aaff66"/>
<rect class="k" x="231.5" y="256.5" width="4.0" height="18.0" fill="#aaff66"/>
<rect x="231" y="251" width="1" height="4" fill="#aaff66"/>
<rect x="231" y="269" width="1" height="4" fill="#aaff66"/>
<polygon points="235.5,229.5 266.5,235.0 266.5,250.5 235.5,256.5" fill="url(#h7)" stroke="#000" stroke-width="1"/>
<polygon points="235.5,256.5 266.5,253.5 266.5,269.0 235.5,275.5" fill="url(#h7)" stroke="#000" stroke-width="1"/>
<rect class="k" x="249.5" y="241.5" width="5.0" height="24.0" fill="#aaff66"/>
<rect class="k" x="249.5" y="265.5" width="5.0" height="18.0" fill="#aaff66"/>
<polygon points="254.5,238.5 285.5,244.0 285.5,259.5 254.5,265.5" fill="url(#h7)" stroke="#000" stroke-width="1"/>
<polygon points="254.5,265.5 285.5,262.5 285.5,278.0 254.5,284.5" fill="url(#h7)" stroke="#000" stroke-width="1"/>
<rect class="w" x="295.5" y="249.5" width="26.0" height="5.0"/>
<rect class="w" x="295.5" y="268.5" width="26.0" height="5.0"/>
<rect class="k" x="322.5" y="250.5" width="3.0" height="5.0" fill="#ffe066"/>
<rect class="k" x="322.5" y="268.5" width="3.0" height="5.0" fill="#ffe066"/>
<rect class="k" x="324.5" y="232.5" width="3.0" height="24.0" fill="#ffe066"/>
<rect class="k" x="324.5" y="256.5" width="3.0" height="18.0" fill="#ffe066"/>
<rect x="324" y="251" width="1" height="4" fill="#ffe066"/>
<rect x="324" y="269" width="1" height="4" fill="#ffe066"/>
<polygon points="327.5,229.5 359.5,235.0 359.5,250.5 327.5,256.5" fill="url(#h5)" stroke="#000" stroke-width="1"/>
<polygon points="327.5,256.5 359.5,253.5 359.5,269.0 327.5,275.5" fill="url(#h5)" stroke="#000" stroke-width="1"/>
<rect class="k" x="342.5" y="241.5" width="4.0" height="24.0" fill="#ff62f8"/>
<rect class="k" x="342.5" y="265.5" width="4.0" height="18.0" fill="#ff62f8"/>
<polygon points="346.5,238.5 378.5,244.0 378.5,259.5 346.5,265.5" fill="url(#h2)" stroke="#000" stroke-width="1"/>
<polygon points="346.5,265.5 378.5,262.5 378.5,278.0 346.5,284.5" fill="url(#h2)" stroke="#000" stroke-width="1"/>
<rect class="w" x="339.5" y="250.5" width="26.0" height="5.0"/>
<rect class="w" x="339.5" y="269.5" width="26.0" height="5.0"/>
<polygon points="367.0,235.0 371.0,235.0 371.0,232.0 403.0,238.5 403.0,273.5 371.0,279.0 371.0,278.0 367.0,278.0" fill="#fff"/>
<g mask="url(#ck)">
<rect class="k" x="367.5" y="235.5" width="4.0" height="24.0" fill="#44b6ff"/>
<rect class="k" x="367.5" y="259.5" width="4.0" height="18.0" fill="#44b6ff"/>
<polygon points="371.5,232.5 402.5,239.0 402.5,254.0 371.5,257.5" fill="url(#hr9)" stroke="#000" stroke-width="1"/>
<polygon points="371.5,257.5 402.5,256.5 402.5,273.0 371.5,278.5" fill="url(#hr9)" stroke="#000" stroke-width="1"/>
</g>
<rect class="w" x="420.5" y="249.5" width="26.0" height="5.0"/>
<rect class="w" x="420.5" y="268.5" width="26.0" height="5.0"/>
<rect class="k" x="447.5" y="250.5" width="3.0" height="5.0" fill="#ffe066"/>
<rect class="k" x="447.5" y="268.5" width="3.0" height="5.0" fill="#ffe066"/>
<rect class="k" x="449.5" y="232.5" width="3.0" height="24.0" fill="#ffe066"/>
<rect class="k" x="449.5" y="256.5" width="3.0" height="18.0" fill="#ffe066"/>
<rect x="449" y="251" width="1" height="4" fill="#ffe066"/>
<rect x="449" y="269" width="1" height="4" fill="#ffe066"/>
<polygon points="452.5,229.5 484.5,235.0 484.5,250.5 452.5,256.5" fill="url(#h5)" stroke="#000" stroke-width="1"/>
<polygon points="452.5,256.5 484.5,253.5 484.5,269.0 452.5,275.5" fill="url(#h5)" stroke="#000" stroke-width="1"/>
<rect class="k" x="467.5" y="241.5" width="4.0" height="24.0" fill="#ff62f8"/>
<rect class="k" x="467.5" y="265.5" width="4.0" height="18.0" fill="#ff62f8"/>
<polygon points="471.5,238.5 503.5,244.0 503.5,259.5 471.5,265.5" fill="url(#h2)" stroke="#000" stroke-width="1"/>
<polygon points="471.5,265.5 503.5,262.5 503.5,278.0 471.5,284.5" fill="url(#h2)" stroke="#000" stroke-width="1"/>
<rect class="w" x="508.5" y="241.5" width="26.0" height="5.0"/>
<rect class="w" x="508.5" y="259.5" width="26.0" height="5.0"/>
<polygon points="535.0,240.0 539.0,240.0 539.0,237.0 571.0,243.5 571.0,278.5 539.0,284.0 539.0,283.0 535.0,283.0" fill="#fff"/>
<g mask="url(#ck)">
<rect class="k" x="535.5" y="240.5" width="4.0" height="24.0" fill="#44b6ff"/>
<rect class="k" x="535.5" y="264.5" width="4.0" height="18.0" fill="#44b6ff"/>
<polygon points="539.5,237.5 570.5,244.0 570.5,259.0 539.5,262.5" fill="url(#hr9)" stroke="#000" stroke-width="1"/>
<polygon points="539.5,262.5 570.5,261.5 570.5,278.0 539.5,283.5" fill="url(#hr9)" stroke="#000" stroke-width="1"/>
</g>
<rect class="w" x="527.5" y="249.5" width="27.0" height="5.0"/>
<rect class="w" x="527.5" y="268.5" width="27.0" height="5.0"/>
<rect class="k" x="555.5" y="250.5" width="2.0" height="5.0" fill="#ffe066"/>
<rect class="k" x="555.5" y="268.5" width="2.0" height="5.0" fill="#ffe066"/>
<rect class="k" x="556.5" y="232.5" width="4.0" height="24.0" fill="#ffe066"/>
<rect class="k" x="556.5" y="256.5" width="4.0" height="18.0" fill="#ffe066"/>
<rect x="556" y="251" width="1" height="4" fill="#ffe066"/>
<rect x="556" y="269" width="1" height="4" fill="#ffe066"/>
<polygon points="560.5,229.5 591.5,235.0 591.5,250.5 560.5,256.5" fill="url(#h5)" stroke="#000" stroke-width="1"/>
<polygon points="560.5,256.5 591.5,253.5 591.5,269.0 560.5,275.5" fill="url(#h5)" stroke="#000" stroke-width="1"/>
<rect class="k" x="574.5" y="241.5" width="4.0" height="24.0" fill="#ff62f8"/>
<rect class="k" x="574.5" y="265.5" width="4.0" height="18.0" fill="#ff62f8"/>
<polygon points="578.5,238.5 610.5,244.0 610.5,259.5 578.5,265.5" fill="url(#h2)" stroke="#000" stroke-width="1"/>
<polygon points="578.5,265.5 610.5,262.5 610.5,278.0 578.5,284.5" fill="url(#h2)" stroke="#000" stroke-width="1"/>
<rect class="w" x="627.5" y="249.5" width="27.0" height="5.0"/>
<rect class="w" x="627.5" y="268.5" width="27.0" height="5.0"/>
<rect class="k" x="655.5" y="250.5" width="2.0" height="5.0" fill="#ffe066"/>
<rect class="k" x="655.5" y="268.5" width="2.0" height="5.0" fill="#ffe066"/>
<rect class="k" x="656.5" y="232.5" width="4.0" height="24.0" fill="#ffe066"/>
<rect class="k" x="656.5" y="256.5" width="4.0" height="18.0" fill="#ffe066"/>
<rect x="656" y="251" width="1" height="4" fill="#ffe066"/>
<rect x="656" y="269" width="1" height="4" fill="#ffe066"/>
<polygon points="660.5,229.5 691.5,235.0 691.5,250.5 660.5,256.5" fill="url(#h5)" stroke="#000" stroke-width="1"/>
<polygon points="660.5,256.5 691.5,253.5 691.5,269.0 660.5,275.5" fill="url(#h5)" stroke="#000" stroke-width="1"/>
<rect class="k" x="674.5" y="241.5" width="4.0" height="24.0" fill="#ff62f8"/>
<rect class="k" x="674.5" y="265.5" width="4.0" height="18.0" fill="#ff62f8"/>
<polygon points="678.5,238.5 710.5,244.0 710.5,259.5 678.5,265.5" fill="url(#h2)" stroke="#000" stroke-width="1"/>
<polygon points="678.5,265.5 710.5,262.5 710.5,278.0 678.5,284.5" fill="url(#h2)" stroke="#000" stroke-width="1"/>
<rect class="k" x="230.5" y="303.5" width="2.0" height="5.0" fill="#aaff66"/>
<rect class="k" x="230.5" y="321.5" width="2.0" height="5.0" fill="#aaff66"/>
<rect class="k" x="231.5" y="285.5" width="4.0" height="24.0" fill="#aaff66"/>
<rect class="k" x="231.5" y="309.5" width="4.0" height="18.0" fill="#aaff66"/>
<rect x="231" y="304" width="1" height="4" fill="#aaff66"/>
<rect x="231" y="322" width="1" height="4" fill="#aaff66"/>
<polygon points="235.5,282.5 266.5,288.0 266.5,303.5 235.5,309.5" fill="url(#h7)" stroke="#000" stroke-width="1"/>
<polygon points="235.5,309.5 266.5,306.5 266.5,322.0 235.5,328.5" fill="url(#h7)" stroke="#000" stroke-width="1"/>
<rect class="k" x="249.5" y="294.5" width="5.0" height="24.0" fill="#aaff66"/>
<rect class="k" x="249.5" y="318.5" width="5.0" height="18.0" fill="#aaff66"/>
<polygon points="254.5,291.5 285.5,297.0 285.5,312.5 254.5,318.5" fill="url(#h7)" stroke="#000" stroke-width="1"/>
<polygon points="254.5,318.5 285.5,315.5 285.5,331.0 254.5,337.5" fill="url(#h7)" stroke="#000" stroke-width="1"/>
<rect class="w" x="295.5" y="302.5" width="26.0" height="5.0"/>
<rect class="w" x="295.5" y="321.5" width="26.0" height="5.0"/>
<rect class="k" x="322.5" y="303.5" width="3.0" height="5.0" fill="#ffe066"/>
<rect class="k" x="322.5" y="321.5" width="3.0" height="5.0" fill="#ffe066"/>
<rect class="k" x="324.5" y="285.5" width="3.0" height="24.0" fill="#ffe066"/>
<rect class="k" x="324.5" y="309.5" width="3.0" height="18.0" fill="#ffe066"/>
<rect x="324" y="304" width="1" height="4" fill="#ffe066"/>
<rect x="324" y="322" width="1" height="4" fill="#ffe066"/>
<polygon points="327.5,282.5 359.5,288.0 359.5,303.5 327.5,309.5" fill="url(#h5)" stroke="#000" stroke-width="1"/>
<polygon points="327.5,309.5 359.5,306.5 359.5,322.0 327.5,328.5" fill="url(#h5)" stroke="#000" stroke-width="1"/>
<rect class="k" x="342.5" y="294.5" width="4.0" height="24.0" fill="#ff62f8"/>
<rect class="k" x="342.5" y="318.5" width="4.0" height="18.0" fill="#ff62f8"/>
<polygon points="346.5,291.5 378.5,297.0 378.5,312.5 346.5,318.5" fill="url(#h2)" stroke="#000" stroke-width="1"/>
<polygon points="346.5,318.5 378.5,315.5 378.5,331.0 346.5,337.5" fill="url(#h2)" stroke="#000" stroke-width="1"/>
<rect class="w" x="339.5" y="303.5" width="26.0" height="5.0"/>
<rect class="w" x="339.5" y="322.5" width="26.0" height="5.0"/>
<polygon points="367.0,288.0 371.0,288.0 371.0,285.0 403.0,291.5 403.0,326.5 371.0,332.0 371.0,331.0 367.0,331.0" fill="#fff"/>
<g mask="url(#ck)">
<rect class="k" x="367.5" y="288.5" width="4.0" height="24.0" fill="#44b6ff"/>
<rect class="k" x="367.5" y="312.5" width="4.0" height="18.0" fill="#44b6ff"/>
<polygon points="371.5,285.5 402.5,292.0 402.5,307.0 371.5,310.5" fill="url(#hr9)" stroke="#000" stroke-width="1"/>
<polygon points="371.5,310.5 402.5,309.5 402.5,326.0 371.5,331.5" fill="url(#hr9)" stroke="#000" stroke-width="1"/>
</g>
<rect class="w" x="420.5" y="302.5" width="26.0" height="5.0"/>
<rect class="w" x="420.5" y="321.5" width="26.0" height="5.0"/>
<rect class="k" x="447.5" y="303.5" width="3.0" height="5.0" fill="#ffe066"/>
<rect class="k" x="447.5" y="321.5" width="3.0" height="5.0" fill="#ffe066"/>
<rect class="k" x="449.5" y="285.5" width="3.0" height="24.0" fill="#ffe066"/>
<rect class="k" x="449.5" y="309.5" width="3.0" height="18.0" fill="#ffe066"/>
<rect x="449" y="304" width="1" height="4" fill="#ffe066"/>
<rect x="449" y="322" width="1" height="4" fill="#ffe066"/>
<polygon points="452.5,282.5 484.5,288.0 484.5,303.5 452.5,309.5" fill="url(#h5)" stroke="#000" stroke-width="1"/>
<polygon points="452.5,309.5 484.5,306.5 484.5,322.0 452.5,328.5" fill="url(#h5)" stroke="#000" stroke-width="1"/>
<rect class="k" x="467.5" y="294.5" width="4.0" height="24.0" fill="#ff62f8"/>
<rect class="k" x="467.5" y="318.5" width="4.0" height="18.0" fill="#ff62f8"/>
<polygon points="471.5,291.5 503.5,297.0 503.5,312.5 471.5,318.5" fill="url(#h2)" stroke="#000" stroke-width="1"/>
<polygon points="471.5,318.5 503.5,315.5 503.5,331.0 471.5,337.5" fill="url(#h2)" stroke="#000" stroke-width="1"/>
<rect class="w" x="508.5" y="294.5" width="26.0" height="5.0"/>
<rect class="w" x="508.5" y="312.5" width="26.0" height="5.0"/>
<polygon points="535.0,293.0 539.0,293.0 539.0,290.0 571.0,296.5 571.0,331.5 539.0,337.0 539.0,336.0 535.0,336.0" fill="#fff"/>
<g mask="url(#ck)">
<rect class="k" x="535.5" y="293.5" width="4.0" height="24.0" fill="#44b6ff"/>
<rect class="k" x="535.5" y="317.5" width="4.0" height="18.0" fill="#44b6ff"/>
<polygon points="539.5,290.5 570.5,297.0 570.5,312.0 539.5,315.5" fill="url(#hr9)" stroke="#000" stroke-width="1"/>
<polygon points="539.5,315.5 570.5,314.5 570.5,331.0 539.5,336.5" fill="url(#hr9)" stroke="#000" stroke-width="1"/>
</g>
<rect class="w" x="527.5" y="302.5" width="27.0" height="5.0"/>
<rect class="w" x="527.5" y="321.5" width="27.0" height="5.0"/>
<rect class="k" x="555.5" y="303.5" width="2.0" height="5.0" fill="#ffe066"/>
<rect class="k" x="555.5" y="321.5" width="2.0" height="5.0" fill="#ffe066"/>
<rect class="k" x="556.5" y="285.5" width="4.0" height="24.0" fill="#ffe066"/>
<rect class="k" x="556.5" y="309.5" width="4.0" height="18.0" fill="#ffe066"/>
<rect x="556" y="304" width="1" height="4" fill="#ffe066"/>
<rect x="556" y="322" width="1" height="4" fill="#ffe066"/>
<polygon points="560.5,282.5 591.5,288.0 591.5,303.5 560.5,309.5" fill="url(#h5)" stroke="#000" stroke-width="1"/>
<polygon points="560.5,309.5 591.5,306.5 591.5,322.0 560.5,328.5" fill="url(#h5)" stroke="#000" stroke-width="1"/>
<rect class="k" x="574.5" y="294.5" width="4.0" height="24.0" fill="#ff62f8"/>
<rect class="k" x="574.5" y="318.5" width="4.0" height="18.0" fill="#ff62f8"/>
<polygon points="578.5,291.5 610.5,297.0 610.5,312.5 578.5,318.5" fill="url(#h2)" stroke="#000" stroke-width="1"/>
<polygon points="578.5,318.5 610.5,315.5 610.5,331.0 578.5,337.5" fill="url(#h2)" stroke="#000" stroke-width="1"/>
<rect class="w" x="627.5" y="302.5" width="27.0" height="5.0"/>
<rect class="w" x="627.5" y="321.5" width="27.0" height="5.0"/>
<rect class="k" x="655.5" y="303.5" width="2.0" height="5.0" fill="#ffe066"/>
<rect class="k" x="655.5" y="321.5" width="2.0" height="5.0" fill="#ffe066"/>
<rect class="k" x="656.5" y="285.5" width="4.0" height="24.0" fill="#ffe066"/>
<rect class="k" x="656.5" y="309.5" width="4.0" height="18.0" fill="#ffe066"/>
<rect x="656" y="304" width="1" height="4" fill="#ffe066"/>
<rect x="656" y="322" width="1" height="4" fill="#ffe066"/>
<polygon points="660.5,282.5 691.5,288.0 691.5,303.5 660.5,309.5" fill="url(#h5)" stroke="#000" stroke-width="1"/>
<polygon points="660.5,309.5 691.5,306.5 691.5,322.0 660.5,328.5" fill="url(#h5)" stroke="#000" stroke-width="1"/>
<rect class="k" x="674.5" y="294.5" width="4.0" height="24.0" fill="#ff62f8"/>
<rect class="k" x="674.5" y="318.5" width="4.0" height="18.0" fill="#ff62f8"/>
<polygon points="678.5,291.5 710.5,297.0 710.5,312.5 678.5,318.5" fill="url(#h2)" stroke="#000" stroke-width="1"/>
<polygon points="678.5,318.5 710.5,315.5 710.5,331.0 678.5,337.5" fill="url(#h2)" stroke="#000" stroke-width="1"/>
<rect class="k" x="230.5" y="355.5" width="2.0" height="5.0" fill="#ffff66"/>
<rect class="k" x="230.5" y="373.5" width="2.0" height="5.0" fill="#ffff66"/>
<rect class="k" x="231.5" y="337.5" width="4.0" height="24.0" fill="#ffff66"/>
<rect class="k" x="231.5" y="361.5" width="4.0" height="18.0" fill="#ffff66"/>
<rect x="231" y="356" width="1" height="4" fill="#ffff66"/>
<rect x="231" y="374" width="1" height="4" fill="#ffff66"/>
<polygon points="235.5,334.5 266.5,340.0 266.5,355.5 235.5,361.5" fill="url(#h6)" stroke="#000" stroke-width="1"/>
<polygon points="235.5,361.5 266.5,358.5 266.5,374.0 235.5,380.5" fill="url(#h6)" stroke="#000" stroke-width="1"/>
<rect class="k" x="249.5" y="346.5" width="5.0" height="24.0" fill="#ffff66"/>
<rect class="k" x="249.5" y="370.5" width="5.0" height="18.0" fill="#ffff66"/>
<polygon points="254.5,343.5 285.5,349.0 285.5,364.5 254.5,370.5" fill="url(#h6)" stroke="#000" stroke-width="1"/>
<polygon points="254.5,370.5 285.5,367.5 285.5,383.0 254.5,389.5" fill="url(#h6)" stroke="#000" stroke-width="1"/>
<rect class="w" x="295.5" y="354.5" width="26.0" height="5.0"/>
<rect class="w" x="295.5" y="373.5" width="26.0" height="5.0"/>
<rect class="k" x="322.5" y="355.5" width="3.0" height="5.0" fill="#ff9c66"/>
<rect class="k" x="322.5" y="373.5" width="3.0" height="5.0" fill="#ff9c66"/>
<rect class="k" x="324.5" y="337.5" width="3.0" height="24.0" fill="#ff9c66"/>
<rect class="k" x="324.5" y="361.5" width="3.0" height="18.0" fill="#ff9c66"/>
<rect x="324" y="356" width="1" height="4" fill="#ff9c66"/>
<rect x="324" y="374" width="1" height="4" fill="#ff9c66"/>
<polygon points="327.5,334.5 359.5,340.0 359.5,355.5 327.5,361.5" fill="url(#h4)" stroke="#000" stroke-width="1"/>
<polygon points="327.5,361.5 359.5,358.5 359.5,374.0 327.5,380.5" fill="url(#h4)" stroke="#000" stroke-width="1"/>
<rect class="k" x="342.5" y="346.5" width="4.0" height="24.0" fill="#9966ff"/>
<rect class="k" x="342.5" y="370.5" width="4.0" height="18.0" fill="#9966ff"/>
<polygon points="346.5,343.5 378.5,349.0 378.5,364.5 346.5,370.5" fill="url(#h1)" stroke="#000" stroke-width="1"/>
<polygon points="346.5,370.5 378.5,367.5 378.5,383.0 346.5,389.5" fill="url(#h1)" stroke="#000" stroke-width="1"/>
<rect class="w" x="339.5" y="355.5" width="26.0" height="5.0"/>
<rect class="w" x="339.5" y="374.5" width="26.0" height="5.0"/>
<polygon points="367.0,340.0 371.0,340.0 371.0,337.0 403.0,343.5 403.0,378.5 371.0,384.0 371.0,383.0 367.0,383.0" fill="#fff"/>
<g mask="url(#ck)">
<rect class="k" x="367.5" y="340.5" width="4.0" height="24.0" fill="#58ffc4"/>
<rect class="k" x="367.5" y="364.5" width="4.0" height="18.0" fill="#58ffc4"/>
<polygon points="371.5,337.5 402.5,344.0 402.5,359.0 371.5,362.5" fill="url(#hr8)" stroke="#000" stroke-width="1"/>
<polygon points="371.5,362.5 402.5,361.5 402.5,378.0 371.5,383.5" fill="url(#hr8)" stroke="#000" stroke-width="1"/>
</g>
<rect class="w" x="420.5" y="354.5" width="26.0" height="5.0"/>
<rect class="w" x="420.5" y="373.5" width="26.0" height="5.0"/>
<rect class="k" x="447.5" y="355.5" width="3.0" height="5.0" fill="#ff9c66"/>
<rect class="k" x="447.5" y="373.5" width="3.0" height="5.0" fill="#ff9c66"/>
<rect class="k" x="449.5" y="337.5" width="3.0" height="24.0" fill="#ff9c66"/>
<rect class="k" x="449.5" y="361.5" width="3.0" height="18.0" fill="#ff9c66"/>
<rect x="449" y="356" width="1" height="4" fill="#ff9c66"/>
<rect x="449" y="374" width="1" height="4" fill="#ff9c66"/>
<polygon points="452.5,334.5 484.5,340.0 484.5,355.5 452.5,361.5" fill="url(#h4)" stroke="#000" stroke-width="1"/>
<polygon points="452.5,361.5 484.5,358.5 484.5,374.0 452.5,380.5" fill="url(#h4)" stroke="#000" stroke-width="1"/>
<rect class="k" x="467.5" y="346.5" width="4.0" height="24.0" fill="#9966ff"/>
<rect class="k" x="467.5" y="370.5" width="4.0" height="18.0" fill="#9966ff"/>
<polygon points="471.5,343.5 503.5,349.0 503.5,364.5 471.5,370.5" fill="url(#h1)" stroke="#000" stroke-width="1"/>
<polygon points="471.5,370.5 503.5,367.5 503.5,383.0 471.5,389.5" fill="url(#h1)" stroke="#000" stroke-width="1"/>
<rect class="w" x="508.5" y="346.5" width="26.0" height="5.0"/>
<rect class="w" x="508.5" y="364.5" width="26.0" height="5.0"/>
<polygon points="535.0,345.0 539.0,345.0 539.0,342.0 571.0,348.5 571.0,383.5 539.0,389.0 539.0,388.0 535.0,388.0" fill="#fff"/>
<g mask="url(#ck)">
<rect class="k" x="535.5" y="345.5" width="4.0" height="24.0" fill="#58ffc4"/>
<rect class="k" x="535.5" y="369.5" width="4.0" height="18.0" fill="#58ffc4"/>
<polygon points="539.5,342.5 570.5,349.0 570.5,364.0 539.5,367.5" fill="url(#hr8)" stroke="#000" stroke-width="1"/>
<polygon points="539.5,367.5 570.5,366.5 570.5,383.0 539.5,388.5" fill="url(#hr8)" stroke="#000" stroke-width="1"/>
</g>
<rect class="w" x="527.5" y="354.5" width="27.0" height="5.0"/>
<rect class="w" x="527.5" y="373.5" width="27.0" height="5.0"/>
<rect class="k" x="555.5" y="355.5" width="2.0" height="5.0" fill="#ff9c66"/>
<rect class="k" x="555.5" y="373.5" width="2.0" height="5.0" fill="#ff9c66"/>
<rect class="k" x="556.5" y="337.5" width="4.0" height="24.0" fill="#ff9c66"/>
<rect class="k" x="556.5" y="361.5" width="4.0" height="18.0" fill="#ff9c66"/>
<rect x="556" y="356" width="1" height="4" fill="#ff9c66"/>
<rect x="556" y="374" width="1" height="4" fill="#ff9c66"/>
<polygon points="560.5,334.5 591.5,340.0 591.5,355.5 560.5,361.5" fill="url(#h4)" stroke="#000" stroke-width="1"/>
<polygon points="560.5,361.5 591.5,358.5 591.5,374.0 560.5,380.5" fill="url(#h4)" stroke="#000" stroke-width="1"/>
<rect class="k" x="574.5" y="346.5" width="4.0" height="24.0" fill="#9966ff"/>
<rect class="k" x="574.5" y="370.5" width="4.0" height="18.0" fill="#9966ff"/>
<polygon points="578.5,343.5 610.5,349.0 610.5,364.5 578.5,370.5" fill="url(#h1)" stroke="#000" stroke-width="1"/>
<polygon points="578.5,370.5 610.5,367.5 610.5,383.0 578.5,389.5" fill="url(#h1)" stroke="#000" stroke-width="1"/>
<rect class="w" x="627.5" y="354.5" width="27.0" height="5.0"/>
<rect class="w" x="627.5" y="373.5" width="27.0" height="5.0"/>
<rect class="k" x="655.5" y="355.5" width="2.0" height="5.0" fill="#ff9c66"/>
<rect class="k" x="655.5" y="373.5" width="2.0" height="5.0" fill="#ff9c66"/>
<rect class="k" x="656.5" y="337.5" width="4.0" height="24.0" fill="#ff9c66"/>
<rect class="k" x="656.5" y="361.5" width="4.0" height="18.0" fill="#ff9c66"/>
<rect x="656" y="356" width="1" height="4" fill="#ff9c66"/>
<rect x="656" y="374" width="1" height="4" fill="#ff9c66"/>
<polygon points="660.5,334.5 691.5,340.0 691.5,355.5 660.5,361.5" fill="url(#h4)" stroke="#000" stroke-width="1"/>
<polygon points="660.5,361.5 691.5,358.5 691.5,374.0 660.5,380.5" fill="url(#h4)" stroke="#000" stroke-width="1"/>
<rect class="k" x="674.5" y="346.5" width="4.0" height="24.0" fill="#9966ff"/>
<rect class="k" x="674.5" y="370.5" width="4.0" height="18.0" fill="#9966ff"/>
<polygon points="678.5,343.5 710.5,349.0 710.5,364.5 678.5,370.5" fill="url(#h1)" stroke="#000" stroke-width="1"/>
<polygon points="678.5,370.5 710.5,367.5 710.5,383.0 678.5,389.5" fill="url(#h1)" stroke="#000" stroke-width="1"/>
<g shape-rendering="auto" stroke-linecap="round" stroke-linejoin="round">
<g transform="translate(0,0)">
<path class="g" stroke-width="2.4" d="M253 65.5 C251 62 246 61 243 64 C239.5 68 238 76 237.7 83 C237.5 90 239.5 96 243 98 C246 99.5 249.5 98.5 250 94"/>
<path class="g" stroke-width="2" d="M246.2 83 C246.5 77 247.5 72 248.5 68"/>
<polygon points="244.5,79 250,78 248.6,69.5" fill="#08f808"/>
<path class="g" stroke-width="1" stroke-dasharray="2 1" d="M250 73 L259 74"/>
<polygon points="258,73.8 271.7,71.5 276.5,77.5 270,82" fill="#08f808"/>
<path class="g" stroke-width="2.4" d="M275.5 77 C277.5 81 273 85 269.3 88.5 C266 91.5 265.5 95 269.3 97.6 C273 100 278 100.5 282.5 101.5"/>
</g>
<g transform="translate(0,53)">
<path class="g" stroke-width="2.4" d="M253 65.5 C251 62 246 61 243 64 C239.5 68 238 76 237.7 83 C237.5 90 239.5 96 243 98 C246 99.5 249.5 98.5 250 94"/>
<path class="g" stroke-width="2" d="M246.2 83 C246.5 77 247.5 72 248.5 68"/>
<polygon points="244.5,79 250,78 248.6,69.5" fill="#08f808"/>
<path class="g" stroke-width="1" stroke-dasharray="2 1" d="M250 73 L259 74"/>
<polygon points="258,73.8 271.7,71.5 276.5,77.5 270,82" fill="#08f808"/>
<path class="g" stroke-width="2.4" d="M275.5 77 C277.5 81 273 85 269.3 88.5 C266 91.5 265.5 95 269.3 97.6 C273 100 278 100.5 282.5 101.5"/>
</g>
<g transform="translate(0,106)">
<path class="g" stroke-width="2.4" d="M253 65.5 C251 62 246 61 243 64 C239.5 68 238 76 237.7 83 C237.5 90 239.5 96 243 98 C246 99.5 249.5 98.5 250 94"/>
<path class="g" stroke-width="2" d="M246.2 83 C246.5 77 247.5 72 248.5 68"/>
<polygon points="244.5,79 250,78 248.6,69.5" fill="#08f808"/>
<path class="g" stroke-width="1" stroke-dasharray="2 1" d="M250 73 L259 74"/>
<polygon points="258,73.8 271.7,71.5 276.5,77.5 270,82" fill="#08f808"/>
<path class="g" stroke-width="2.4" d="M275.5 77 C277.5 81 273 85 269.3 88.5 C266 91.5 265.5 95 269.3 97.6 C273 100 278 100.5 282.5 101.5"/>
</g>
<g transform="translate(0,278)">
<path class="g" stroke-width="2.4" d="M253 65.5 C251 62 246 61 243 64 C239.5 68 238 76 237.7 83 C237.5 90 239.5 96 243 98 C246 99.5 249.5 98.5 250 94"/>
<path class="g" stroke-width="2" d="M246.2 83 C246.5 77 247.5 72 248.5 68"/>
<polygon points="244.5,79 250,78 248.6,69.5" fill="#08f808"/>
<path class="g" stroke-width="1" stroke-dasharray="2 1" d="M250 73 L259 74"/>
<polygon points="258,73.8 271.7,71.5 276.5,77.5 270,82" fill="#08f808"/>
<path class="g" stroke-width="2.4" d="M275.5 77 C277.5 81 273 85 269.3 88.5 C266 91.5 265.5 95 269.3 97.6 C273 100 278 100.5 282.5 101.5"/>
</g>
<g transform="translate(0,0)">
<path class="g" shape-rendering="crispEdges" stroke-width="1" stroke-dasharray="3 2" d="M284 102 C291 103 297 106 296 110 C295 115 286 117 277 116 C268 115 260 110 250 109.5 C242 109 236 112 233 116 C230 121 229 128 230 135"/>
</g>
<g transform="translate(0,53)">
<path class="g" shape-rendering="crispEdges" stroke-width="1" stroke-dasharray="3 2" d="M284 102 C291 103 297 106 296 110 C295 115 286 117 277 116 C268 115 260 110 250 109.5 C242 109 236 112 233 116 C230 121 229 128 230 135"/>
</g>
<path class="g" shape-rendering="crispEdges" stroke-width="1" stroke-dasharray="3 2" d="M233 100 C226 118 219 145 214 175 C209 205 205 245 203 285 C201 320 201 345 204 368 C206 383 210 391 218 395 C230 401 255 401 275 398 C287 396 294 392 294 387 C294 383 291 380 285 378"/>
<path class="g" shape-rendering="crispEdges" stroke-width="1" stroke-dasharray="2 2" d="M236 107 C231 118 226 132 222 150"/>
</g>
<g shape-rendering="auto" fill="none" stroke="#000" stroke-width="1">
<path stroke-dasharray="3 2" d="M775 38 C786 40 791 75 793 110"/>
<path stroke-dasharray="10 3 17 2 100" d="M793.5 112 C795 140 797 180 797.5 210"/>
<path stroke-dasharray="3 2" d="M764 44 C755 60 751 90 750 120"/>
<path stroke-dasharray="24 3" d="M749.5 122 C748 160 747 190 746.5 215"/>
<path stroke-dasharray="80 3 12 3 8 3" d="M798.5 229 C798 270 797 300 795 335"/>
<path stroke-dasharray="3 2" d="M795 337 C793 365 788 392 781 408"/>
<path stroke-dasharray="66 2 20 2 11 2" d="M746.5 234 C747 270 748 310 750 335"/>
<path stroke-dasharray="3 2" d="M750 337 C752 370 758 400 768 412"/>
<path d="M740 222.5 H796"/>
</g>
<g shape-rendering="auto" fill="#000">
<polygon points="766.5,40.5 760.5,45 765.5,47.5"/>
<polygon points="795,209 800,209 797.5,217.5"/>
<polygon points="731,222.5 740,220 740,225"/>
<polygon points="746,226.5 743.5,234.5 748.5,234.5"/>
<polygon points="776,413 780.5,405.5 784.5,411"/>
</g>
<rect x="831" y="0" width="1" height="493" fill="#000"/>
<g shape-rendering="auto" text-rendering="geometricPrecision" opacity="0.999">
<text class="h" x="34.5" y="19.0">SUBREPEATER</text>
<text class="h" x="34.5" y="31.0">5</text>
<text class="h" x="62.5" y="31.0">4</text>
<text class="h" x="92.5" y="31.0">3</text>
<text class="h" x="119.5" y="31.0">2</text>
<text class="h" x="148.5" y="31.0">1</text>
<text class="h" x="174.0" y="31.0">0</text>
<text class="h" x="245.5" y="19.0">DISK 4</text>
<text class="h" x="245.5" y="31.0">v</text>
<text class="h" x="264.0" y="31.0">-</text>
<text class="h" x="277.0" y="31.0">u</text>
<text class="h" x="327.5" y="19.0">DISK 3</text>
<text class="h" x="327.5" y="31.0">v</text>
<text class="h" x="345.5" y="31.0">-</text>
<text class="h" x="360.5" y="31.0">u</text>
<text class="h" x="379.0" y="31.0">-</text>
<text class="h" x="391.0" y="31.0">r</text>
<text class="h" x="458.5" y="19.0">DISK 2</text>
<text class="h" x="458.5" y="31.0">v</text>
<text class="h" x="477.0" y="31.0">-</text>
<text class="h" x="489.5" y="31.0">u</text>
<text class="h" x="538.5" y="19.0">DISK 1</text>
<text class="h" x="538.5" y="31.0">r</text>
<text class="h" x="554.5" y="31.0">-</text>
<text class="h" x="568.0" y="31.0">v</text>
<text class="h" x="586.5" y="31.0">-</text>
<text class="h" x="601.0" y="31.0">u</text>
<text class="h" x="662.0" y="19.0">DISK 0</text>
<text class="h" x="662.0" y="31.0">v</text>
<text class="h" x="681.0" y="31.0">-</text>
<text class="h" x="693.5" y="31.0">u</text>
<text class="s" x="760.5" y="35.0" style="letter-spacing:0.2px">phi</text>
<text class="s" x="725.5" y="228.0">z</text>
<rect x="774.0" y="72" width="43" height="10" fill="#fff"/>
<text class="s" x="775.0" y="80.0">SECTOR 5</text>
<rect x="764.5" y="92" width="43" height="10" fill="#fff"/>
<text class="s" x="765.5" y="100.0">SECTOR 4</text>
<rect x="774.0" y="124" width="43" height="10" fill="#fff"/>
<text class="s" x="775.0" y="132.0">SECTOR 3</text>
<rect x="764.5" y="144" width="43" height="10" fill="#fff"/>
<text class="s" x="765.5" y="152.0">SECTOR 2</text>
<rect x="774.0" y="177" width="43" height="10" fill="#fff"/>
<text class="s" x="775.0" y="185.0">SECTOR 1</text>
<rect x="764.5" y="197" width="43" height="10" fill="#fff"/>
<text class="s" x="765.5" y="205.0">SECTOR 0</text>
<rect x="774.0" y="244" width="47" height="10" fill="#fff"/>
<text class="s" x="775.0" y="252.0">SECTOR 15</text>
<rect x="764.5" y="264" width="47" height="10" fill="#fff"/>
<text class="s" x="765.5" y="272.0">SECTOR 14</text>
<rect x="774.0" y="296" width="47" height="10" fill="#fff"/>
<text class="s" x="775.0" y="304.0">SECTOR 13</text>
<rect x="764.5" y="316" width="47" height="10" fill="#fff"/>
<text class="s" x="765.5" y="324.0">SECTOR 12</text>
<rect x="774.0" y="349" width="47" height="10" fill="#fff"/>
<text class="s" x="775.0" y="357.0">SECTOR 11</text>
<rect x="764.5" y="369" width="47" height="10" fill="#fff"/>
<text class="s" x="765.5" y="377.0">SECTOR 10</text>
<text class="c" x="316.0" y="441.0" style="font-size:14px" textLength="309" lengthAdjust="spacing">Distribution of Readout Channels (Power PCs) for FST</text>
<text class="p" x="29.5" y="452.0" style="font-size:12px">power pcs</text>
<text class="p" x="34.3" y="464.0" style="font-size:12px">0</text>
<text class="p" x="52.6" y="464.0" style="font-size:12px">1</text>
<text class="p" x="73.8" y="464.0" style="font-size:12px">2</text>
<text class="p" x="94.2" y="464.0" style="font-size:12px">3</text>
<text class="p" x="112.6" y="464.0" style="font-size:12px">4</text>
<text class="p" x="133.2" y="464.0" style="font-size:12px">5</text>
<text class="p" x="154.2" y="464.0" style="font-size:12px">6</text>
<text class="p" x="175.6" y="464.0" style="font-size:12px">7</text>
<text class="p" x="196.6" y="464.0" style="font-size:12px">8</text>
<text class="p" x="217.6" y="464.0" style="font-size:12px">9</text>
</g>
<rect class="k" x="31.5" y="468.5" width="16.0" height="16.0" fill="#6670ff"/>
<rect class="k" x="51.5" y="468.5" width="16.0" height="16.0" fill="#9966ff"/>
<rect class="k" x="71.5" y="468.5" width="16.0" height="16.0" fill="#ff62f8"/>
<rect class="k" x="91.5" y="468.5" width="16.0" height="16.0" fill="#ff6670"/>
<rect class="k" x="111.5" y="468.5" width="16.0" height="16.0" fill="#ff9c66"/>
<rect class="k" x="131.5" y="468.5" width="16.0" height="16.0" fill="#ffe066"/>
<rect class="k" x="151.5" y="468.5" width="16.0" height="16.0" fill="#ffff66"/>
<rect class="k" x="171.5" y="468.5" width="16.0" height="16.0" fill="#aaff66"/>
<rect class="k" x="191.5" y="468.5" width="16.0" height="16.0" fill="#66ffc4"/>
<rect class="k" x="211.5" y="468.5" width="16.0" height="16.0" fill="#70ccff"/>
</svg>
</body></html>
